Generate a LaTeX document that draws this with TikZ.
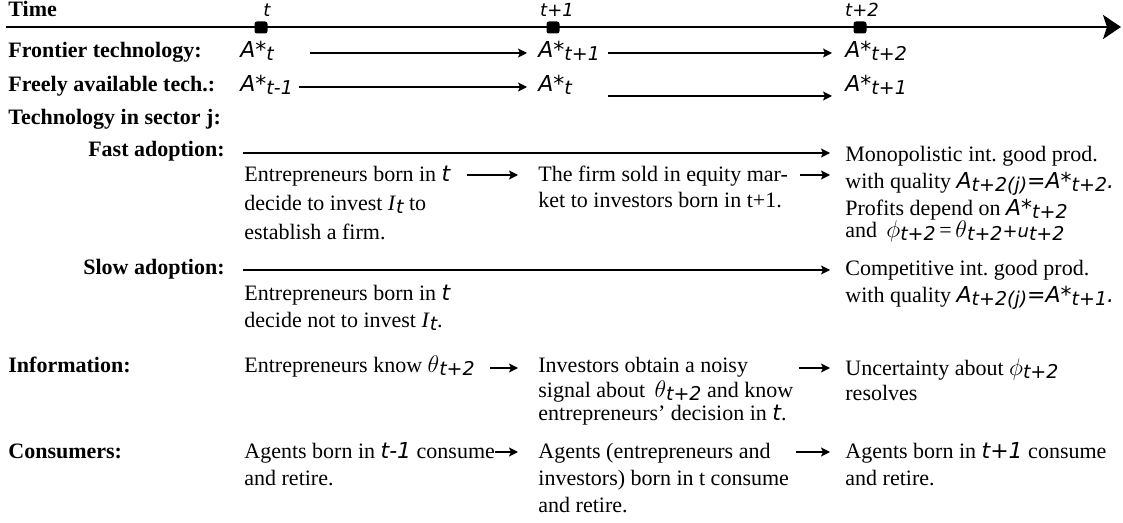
\documentclass[tikz,border=0pt]{standalone}
\usepackage{fontspec}
\setmainfont{Liberation Serif}
\newfontfamily\gothic{DejaVu Sans}
\usetikzlibrary{positioning, arrows.meta}
\newcommand\bodyfont{\fontsize{11}{13.5}\selectfont\frenchspacing\lineskiplimit=-20pt\relax}
\newcommand\tstrut{\rule{0pt}{10pt}}
\newcommand\gi[1]{{\gothic\itshape #1}}
\newcommand\gsub[1]{\raisebox{-1.5pt}{\gothic\itshape\fontsize{9.5}{9.5}\selectfont #1}}
\newcommand\bigsym[1]{{\fontsize{13}{13}\selectfont$#1$}}

\begin{document}
\begin{tikzpicture}[x=0.5pt, y=-0.5pt,
      every node/.style={inner sep=0pt},
      lbl/.style={anchor=base west, font=\bodyfont\bfseries},
      lblr/.style={anchor=base east, font=\bodyfont\bfseries},
      tech/.style={anchor=base west, text height=7pt, text depth=2pt, font=\bodyfont\gothic\itshape},
      txt/.style={anchor=north west, yshift=10pt, align=left, font=\bodyfont},
      tick/.style={fill=black, rounded corners=1.2pt, minimum width=6.5pt, minimum height=6pt},
      ticklab/.style={font=\gothic\itshape\fontsize{9}{9}\selectfont},
      arr/.style={-{Stealth[length=4.5pt, width=4.5pt, inset=1pt]}, line width=0.75pt}]

    \useasboundingbox (0,0) rectangle (1123,523);

    \coordinate (axst) at (6,27);
    \coordinate (axend) at (1121,27);
    \draw[line width=1.3pt, -{Stealth[length=9pt, width=12pt, inset=2pt]}] (axst) -- (axend);
    \node[tick] (tk0) at (261,27.5) {};
    \node[tick] (tk1) at (553,27.5) {};
    \node[tick] (tk2) at (860,27.5) {};
    \node[ticklab, above=2pt of tk0, xshift=3pt] (tl0) {t};
    \node[ticklab, above=2pt of tk1, xshift=2pt] (tl1) {t+1};
    \node[ticklab, above=2pt of tk2, xshift=1pt] (tl2) {t+2};
    \node[lbl] (ltime) at (8,17) {Time};

    \node[lbl] (lfront) at (8,58) {Frontier technology:};
    \node[tech] (ft0) at (240,58) {A*\gsub{t}};
    \node[tech] (ft1) at (538,58) {A*\gsub{t+1}};
    \node[tech] (ft2) at (845,58) {A*\gsub{t+2}};
    \draw[arr, shorten <=18pt, shorten >=5.5pt] (ft0) -- (ft1);
    \draw[arr, shorten <=3.75pt, shorten >=6.5pt] (ft1) -- (ft2);

    \node[lbl] (lfree) at (8,92) {Freely available tech.:};
    \node[tech] (fa0) at (240,92) {A*\gsub{t-1}};
    \node[tech] (fa1) at (538,92) {A*\gsub{t}};
    \node[tech] (fa2) at (845,92) {A*\gsub{t+1}};
    \draw[arr, shorten <=2.8pt, shorten >=5.5pt] (fa0) -- (fa1);
    \draw[arr, shorten <=17.75pt, shorten >=6.5pt] ([yshift=-4.5pt]fa1.east) -- ([yshift=-4.5pt]fa2.west);

    \node[lbl] (lsector) at (8,125) {Technology in sector j:};

    \node[lblr] (lfast) at (225,157) {Fast adoption:};
    \coordinate (fastst) at (243,153);
    \node[txt] (fe1) at (244,181) {\tstrut Entrepreneurs born in \gi{t}\\[1pt] decide to invest \textit{I}\gsub{t} to\\[1pt] establish a firm.};
    \node[txt] (fe2) at (538,181) {\tstrut The firm sold in equity mar-\\[-0.5pt] ket to investors born in t+1.};
    \node[txt] (mono) at (845,161) {\tstrut Monopolistic int. good prod.\\ with quality \gi{A}\gsub{t+2(j)}\gi{=A*}\gsub{t+2}\gi{.}\\ Profits depend on \gi{A*}\gsub{t+2}\\[-2.5pt] and \,\bigsym{\phi}\gsub{t+2}\,=\,\bigsym{\theta}\gsub{t+2}\gi{\small +u}\gsub{t+2}};
    \draw[arr, shorten >=7.5pt] (fastst) -- (fastst -| mono.west);
    \draw[arr] ([xshift=8pt, yshift=-7pt]fe1.north east) -- ([xshift=-10pt, yshift=-7pt]fe2.north west);
    \draw[arr] ([xshift=6pt, yshift=-7pt]fe2.north east) -- ([xshift=-7.5pt, yshift=-7pt]fe2.north east -| mono.west);

    \node[lblr] (lslow) at (225,275) {Slow adoption:};
    \coordinate (slowst) at (243,270);
    \node[txt] (se1) at (244,300) {\tstrut Entrepreneurs born in \gi{t}\\ decide not to invest \textit{I}\gsub{t}.};
    \node[txt] (comp) at (845,275) {\tstrut Competitive int. good prod.\\ with quality \gi{A}\gsub{t+2(j)}\gi{=A*}\gsub{t+1}\gi{.}};
    \draw[arr, shorten >=7.5pt] (slowst) -- (slowst -| comp.west);

    \node[lbl] (linfo) at (8,372) {Information:};
    \node[txt] (in1) at (244,372) {\tstrut Entrepreneurs know \bigsym{\theta}\gsub{t+2}};
    \node[txt] (in2) at (538,372) {\tstrut Investors obtain a noisy\\[-1pt] signal about \,\bigsym{\theta}\gsub{t+2} and know\\[-2pt] entrepreneurs' decision in \gi{t}.};
    \node[txt] (in3) at (845,375) {\tstrut Uncertainty about \bigsym{\phi}\gsub{t+2}\\[-1pt] resolves};
    \draw[arr] ([xshift=7.5pt, yshift=-8pt]in1.north east) -- ([xshift=-10pt, yshift=-8pt]in2.north west);
    \draw[arr] ([xshift=2.5pt, yshift=-8pt]in2.north east) -- ([xshift=-7.5pt, yshift=-8pt]in2.north east -| in3.west);

    \node[lbl] (lcons) at (8,458) {Consumers:};
    \node[txt] (co1) at (244,458) {\tstrut Agents born in \gi{t-1} consume\\ and retire.};
    \node[txt] (co2) at (538,458) {\tstrut Agents (entrepreneurs and\\ investors) born in t consume\\ and retire.};
    \node[txt] (co3) at (845,458) {\tstrut Agents born in \gi{t+1} consume\\ and retire.};
    \draw[arr] ([yshift=-7pt]co1.north east) -- ([xshift=-10pt, yshift=-7pt]co2.north west);
    \draw[arr] ([xshift=3.5pt, yshift=-7pt]co2.north east) -- ([xshift=-7.5pt, yshift=-7pt]co3.north west);
  \end{tikzpicture}
\end{document}
